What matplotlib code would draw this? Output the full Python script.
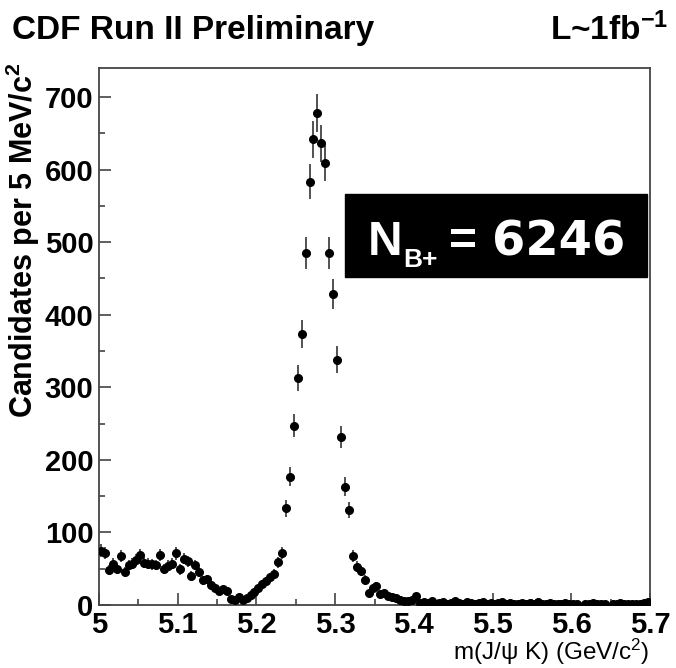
import numpy as np
import matplotlib
matplotlib.use("Agg")
import matplotlib.pyplot as plt
from matplotlib.ticker import MultipleLocator, FuncFormatter
from matplotlib.patches import Rectangle

plt.rcParams['font.family'] = ['Liberation Sans', 'DejaVu Sans']
plt.rcParams['mathtext.fontset'] = 'custom'
plt.rcParams['mathtext.rm'] = 'Liberation Sans'
plt.rcParams['mathtext.it'] = 'Liberation Sans:italic'
plt.rcParams['mathtext.bf'] = 'Liberation Sans:bold'

# Histogram binning: m(J/psi K) from 5.0 to 5.7 GeV/c^2 in 5 MeV bins
mass_lo = 5.0
mass_hi = 5.7
bin_width = 0.005

# Candidates per bin, low-mass sideband (bins 0-46)
counts_low = [75, 72, 48, 57, 50, 67, 46, 55, 57, 62,
              69, 58, 57, 56, 55, 69, 50, 54, 57, 71,
              49, 64, 60, 40, 55, 46, 34, 36, 28, 24,
              19, 22, 19, 8, 7, 11, 7, 10, 14, 18,
              23, 29, 33, 38, 43, 59, 72]
# Signal region (bins 47-81)
counts_peak = [133, 177, 247, 313, 373, 485, 583, 642, 678, 636,
               609, 485, 429, 338, 231, 163, 131, 67, 53, 47,
               35, 16, 24, 26, 15, 17, 12, 11, 9, 7,
               6, 5, 7, 13, 3]
# High-mass tail (bins 82-139)
counts_high = [4, 3, 5, 2, 3, 4, 2, 3, 5, 3,
               2, 4, 3, 2, 3, 4, 2, 3, 2, 3,
               4, 2, 3, 2, 1, 3, 2, 3, 2, 4,
               2, 1, 3, 2, 1, 2, 3, 2, 1, 2,
               0, 1, 2, 3, 2, 1, 2, 0, 2, 1,
               3, 2, 1, 2, 2, 1, 3, 4]

n_signal = 6246

counts = np.array(counts_low + counts_peak + counts_high, dtype=float)
centers = mass_lo + bin_width * (np.arange(len(counts)) + 0.5)
filled = counts > 0

W, H = 676, 668
fig = plt.figure(figsize=(W / 100, H / 100), dpi=100)
ax = fig.add_axes([99 / W, 63 / H, 551 / W, 537 / H])

ax.errorbar(centers[filled], counts[filled], yerr=np.sqrt(counts[filled]),
            fmt='o', color='black', ms=5.5, mec='black', mfc='black',
            ecolor='#333333', elinewidth=1.2, capsize=0, zorder=3)

ax.set_xlim(mass_lo, mass_hi)
ax.set_ylim(0, 740)

ax.xaxis.set_major_locator(MultipleLocator(0.1))
ax.xaxis.set_minor_locator(MultipleLocator(0.05))
ax.yaxis.set_major_locator(MultipleLocator(100))
ax.yaxis.set_minor_locator(MultipleLocator(50))
ax.xaxis.set_major_formatter(FuncFormatter(lambda v, p: f"{v:g}"))

for s in ax.spines.values():
    s.set_color('#444444')
    s.set_linewidth(1.3)

ax.tick_params(axis='both', which='both', direction='in', top=False, right=False,
               color='#444444', width=1.2)
ax.tick_params(axis='both', which='major', length=8.5, labelsize=21, pad=4)
ax.tick_params(axis='both', which='minor', length=4)
for lab in ax.get_xticklabels() + ax.get_yticklabels():
    lab.set_fontweight('bold')

# Header
fig.text(12 / W, 1 - 30 / H, "CDF Run II Preliminary", fontsize=24,
         fontweight='bold', ha='left', va='center')
fig.text(668 / W, 1 - 30 / H, r"L~1fb$^{\mathbf{-1}}$", fontsize=24,
         fontweight='bold', ha='right', va='center')

# Axis titles
fig.text(23 / W, 1 - 62 / H, r"Candidates per 5 MeV/c$^{\mathbf{2}}$",
         fontsize=22, fontweight='bold', rotation=90, ha='center', va='top')
fig.text(649 / W, 1 - 652 / H, r"m(J/ψ K) (GeV/c$^{2}$)",
         fontsize=17.5, ha='right', va='center')

# Signal yield box (positions in axes fractions)
def ax_x(px):
    return (px - 99) / 551


def ax_y(py):
    return (605 - py) / 537


ax.add_patch(Rectangle((ax_x(345), ax_y(277)), ax_x(647) - ax_x(345),
                       ax_y(194) - ax_y(277), transform=ax.transAxes,
                       facecolor='black', edgecolor='black', zorder=4))
base = ax_y(255)
ax.text(ax_x(368), base, "N", transform=ax.transAxes, fontsize=34.5,
        fontweight='bold', color='white', ha='left', va='baseline', zorder=5)
ax.text(ax_x(403), ax_y(267), "B+", transform=ax.transAxes, fontsize=19,
        fontweight='bold', color='white', ha='left', va='baseline', zorder=5)
ax.text(ax_x(449), base, "=", transform=ax.transAxes, fontsize=34.5,
        fontweight='bold', color='white', ha='left', va='baseline', zorder=5)
ax.text(ax_x(492), base, str(n_signal), transform=ax.transAxes, fontsize=34.5,
        fontweight='bold', color='white', ha='left', va='baseline',
        family='DejaVu Sans', zorder=5)

fig.savefig("out.png", dpi=100)
